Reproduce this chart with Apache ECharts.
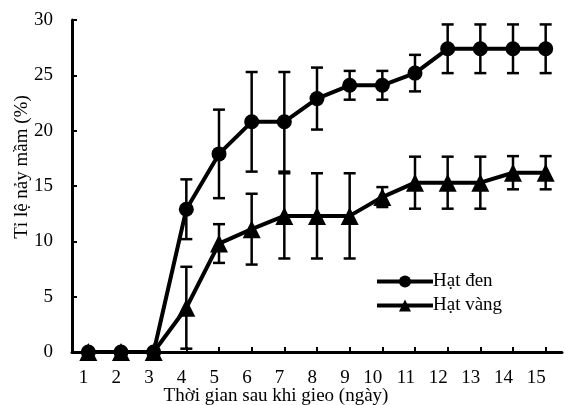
<!DOCTYPE html>
<html><head><meta charset="utf-8">
<script src="https://cdn.jsdelivr.net/npm/echarts@6/dist/echarts.min.js"></script>
<style>html,body{margin:0;padding:0;background:#fff}#c{width:564px;height:405px}</style>
</head><body><div id="c"></div>
<script>
const categories = ['1','2','3','4','5','6','7','8','9','10','11','12','13','14','15'];
const denValues = [0,0,0,12.9,17.9,20.8,20.8,22.9,24.1,24.1,25.2,27.4,27.4,27.4,27.4];
const denErrors = [0,0,0,2.7,4.0,4.5,4.5,2.8,1.3,1.3,1.65,2.2,2.2,2.2,2.2];
const vangValues = [0,0,0,4.0,9.8,11.1,12.3,12.3,12.3,14.0,15.3,15.3,15.3,16.2,16.2];
const vangErrors = [0,0,0,3.7,1.75,3.2,3.85,3.85,3.85,0.9,2.35,2.35,2.35,1.5,1.5];
const yTicks = [0,5,10,15,20,25,30];
const seriesNames = ['Hạt đen','Hạt vàng'];
const xTitle = 'Thời gian sau khi gieo (ngày)';
const yTitle = 'Tỉ lệ nảy mầm (%)';

const font = '"Liberation Serif","Times New Roman",serif';
const chart = echarts.init(document.getElementById('c'), null, {renderer:'canvas'});

function errData(vals, errs){
  return vals.map((v,i)=>[i, v-errs[i], v+errs[i], errs[i]]);
}
function errRender(params, api){
  if (api.value(3) <= 0) return null;
  const lo = api.coord([api.value(0), api.value(1)]);
  const hi = api.coord([api.value(0), api.value(2)]);
  const w = 6;
  const st = {stroke:'#000', lineWidth:2.5};
  return {type:'group', children:[
    {type:'line', shape:{x1:lo[0],y1:lo[1],x2:hi[0],y2:hi[1]}, style:st},
    {type:'line', shape:{x1:lo[0]-w,y1:lo[1],x2:lo[0]+w,y2:lo[1]}, style:st},
    {type:'line', shape:{x1:hi[0]-w,y1:hi[1],x2:hi[0]+w,y2:hi[1]}, style:st}
  ]};
}

chart.setOption({
  animation:false,
  backgroundColor:'#fff',
  grid:{left:72, right:2, top:20, bottom:53, containLabel:false, outerBoundsMode:'none'},
  legend:{
    data:seriesNames,
    orient:'vertical', left:370, top:267, itemWidth:56, itemHeight:15, itemGap:5,
    lineStyle:{width:4, color:'#000'},
    textStyle:{fontFamily:font, fontSize:19, color:'#000', padding:[0,0,0,-5]}
  },
  xAxis:{
    type:'category', data:categories, boundaryGap:true,
    axisLine:{lineStyle:{color:'#000', width:3}},
    axisTick:{show:true, alignWithLabel:true, inside:true, length:5, lineStyle:{color:'#000', width:2}},
    axisLabel:{fontFamily:font, fontSize:19, color:'#000', margin:17, align:'right'},
    name:xTitle, nameLocation:'middle', nameGap:35, nameMoveOverlap:false,
    nameTextStyle:{fontFamily:font, fontSize:19, color:'#000', padding:[0,82,0,0]}
  },
  yAxis:{
    type:'value', min:0, max:30, interval:5,
    axisLine:{show:true, lineStyle:{color:'#000', width:3}},
    axisTick:{show:true, inside:true, length:5, lineStyle:{color:'#000', width:2}},
    splitLine:{show:false},
    axisLabel:{fontFamily:font, fontSize:19, color:'#000', margin:19,
      formatter:v=>yTicks.includes(v)?String(v):''},
    name:yTitle, nameLocation:'middle', nameGap:40, nameMoveOverlap:false,
    nameTextStyle:{fontFamily:font, fontSize:19, color:'#000', padding:[0,0,0,38]}
  },
  series:[
    {type:'custom', renderItem:errRender, data:errData(denValues,denErrors), z:1, silent:true},
    {type:'custom', renderItem:errRender, data:errData(vangValues,vangErrors), z:1, silent:true},
    {name:seriesNames[0], type:'line', data:denValues, symbol:'circle', symbolSize:15,
     lineStyle:{color:'#000', width:4}, itemStyle:{color:'#000'}, z:3},
    {name:seriesNames[1], type:'line', data:vangValues, symbol:'triangle', symbolSize:18,
     lineStyle:{color:'#000', width:4}, itemStyle:{color:'#000'}, z:3}
  ]
});
</script></body></html>
